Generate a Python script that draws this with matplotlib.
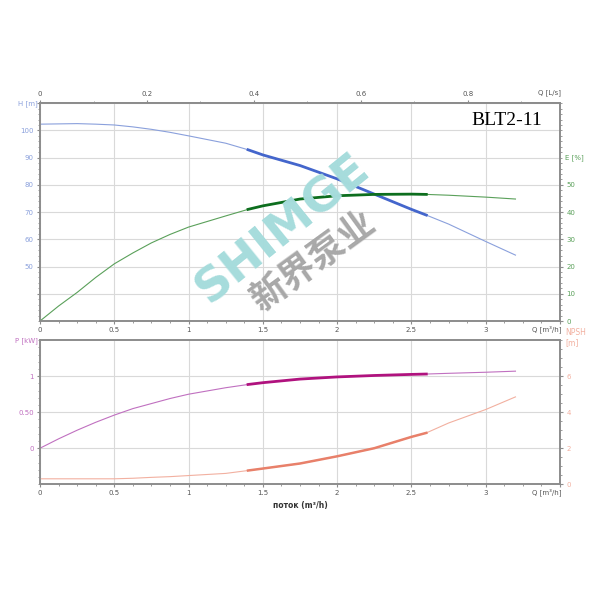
import matplotlib.pyplot as plt
from matplotlib.ticker import MultipleLocator

# pump curve data (Q in m3/h)
q = [0, 0.125, 0.25, 0.375, 0.5, 0.625, 0.75, 0.875, 1.0, 1.25, 1.4, 1.5, 1.75, 2.0, 2.25, 2.5, 2.6, 2.75, 3.0, 3.2]
head = [102.3, 102.4, 102.5, 102.3, 102.0, 101.3, 100.4, 99.3, 98.0, 95.3, 92.9, 91.0, 87.1, 82.2, 76.6, 71.0, 68.9, 65.6, 59.2, 54.2]
eff = [0, 5.5, 10.5, 16, 21, 25, 28.7, 31.8, 34.5, 38.6, 41, 42.3, 44.8, 46, 46.5, 46.6, 46.5, 46.2, 45.5, 44.8]
power = [0, 0.13, 0.25, 0.36, 0.46, 0.55, 0.62, 0.69, 0.75, 0.84, 0.885, 0.91, 0.96, 0.99, 1.01, 1.025, 1.03, 1.04, 1.055, 1.07]
npsh = [0.3, 0.3, 0.3, 0.3, 0.3, 0.33, 0.38, 0.42, 0.48, 0.6, 0.76, 0.87, 1.15, 1.55, 2.0, 2.63, 2.85, 3.4, 4.15, 4.85]
# operating range (thick part): Q 1.4 .. 2.6
i0, i1 = 10, 17

q_ticks = [0, 0.5, 1, 1.5, 2, 2.5, 3, 3.5]
q_labels = ["0", "0.5", "1", "1.5", "2", "2.5", "3", ""]
ls_ticks = [0, 0.2, 0.4, 0.6, 0.8]
ls_labels = ["0", "0.2", "0.4", "0.6", "0.8"]

model = "BLT2-11"
grid_c = "#d9d9d9"
spine_c = "#8c8c8c"
lbl_c = "#555555"

c_h, c_h2 = "#8aa0dc", "#4466cc"
c_e, c_e2 = "#5aa05a", "#0d6e1e"
c_p, c_p2 = "#c070c0", "#b0127e"
c_n, c_n2 = "#f2b0a0", "#e8806a"

fig = plt.figure(figsize=(6, 6), dpi=100)

def style_axes(ax):
    for s in ax.spines.values():
        s.set_color(spine_c)
        s.set_linewidth(1.2)
    ax.tick_params(labelsize=5, length=2.5, width=0.8, color=spine_c, pad=2)
    ax.tick_params(which="minor", length=1.5, width=0.6, color=spine_c)

# ---------- top: head + efficiency ----------
ax1 = fig.add_axes([0.0667, 0.465, 0.8667, 0.363])
ax1.set_xlim(0, 3.5)
ax1.set_ylim(30, 110)
ax1.set_xticks(q_ticks)
ax1.set_xticklabels(q_labels)
ax1.xaxis.set_minor_locator(MultipleLocator(0.125))
ax1.set_yticks([40, 50, 60, 70, 80, 90, 100, 110])
ax1.set_yticklabels(["", "50", "60", "70", "80", "90", "100", ""])
ax1.yaxis.set_minor_locator(MultipleLocator(2))
ax1.grid(True, color=grid_c, linewidth=0.8)
style_axes(ax1)
ax1.tick_params(axis="y", labelcolor=c_h)
ax1.tick_params(axis="x", labelcolor=lbl_c)

ax1.plot(q, head, color=c_h, lw=0.8)
ax1.plot(q[i0:i1], head[i0:i1], color=c_h2, lw=2)

ax1e = ax1.twinx()
ax1e.set_ylim(0, 80)
ax1e.set_yticks([0, 10, 20, 30, 40, 50])
ax1e.yaxis.set_minor_locator(MultipleLocator(2))
style_axes(ax1e)
ax1e.tick_params(axis="y", labelcolor=c_e)
ax1e.plot(q, eff, color=c_e, lw=0.8)
ax1e.plot(q[i0:i1], eff[i0:i1], color=c_e2, lw=2)

sec = ax1.secondary_xaxis("top", functions=(lambda x: x / 3.6, lambda x: x * 3.6))
sec.set_xticks(ls_ticks)
sec.set_xticklabels(ls_labels)
sec.xaxis.set_minor_locator(MultipleLocator(0.1))
sec.tick_params(labelsize=5, length=2.5, width=0.8, color=spine_c, labelcolor=lbl_c, pad=2)
sec.tick_params(which="minor", length=1.5, color=spine_c)
sec.spines["top"].set_color(spine_c)
sec.spines["top"].set_linewidth(1.2)

fig.text(0.063, 0.828, "H [m]", color=c_h, fontsize=5, ha="right", va="center")
fig.text(0.935, 0.845, "Q [L/s]", color=lbl_c, fontsize=5, ha="right", va="center")
fig.text(0.942, 0.737, "E [%]", color=c_e, fontsize=5, ha="left", va="center")
fig.text(0.935, 0.452, "Q [m³/h]", color=lbl_c, fontsize=5, ha="right", va="center")
ax1.text(0.965, 0.96, model, transform=ax1.transAxes, fontsize=14,
         family="Liberation Serif", ha="right", va="top")

# watermark
fig.text(0.472, 0.618, "SHIMGE", fontsize=34, fontweight="bold", color="#a6dcdc",
         rotation=39, ha="center", va="center")
fig.text(0.522, 0.563, "新界泵业", fontsize=26, fontweight="bold", color="#a8a8a8",
         family=["Noto Sans CJK SC", "DejaVu Sans"], rotation=36, ha="center", va="center")

# ---------- bottom: power + NPSH ----------
ax2 = fig.add_axes([0.0667, 0.193, 0.8667, 0.24])
ax2.set_xlim(0, 3.5)
ax2.set_ylim(-0.5, 1.5)
ax2.set_xticks(q_ticks)
ax2.set_xticklabels(q_labels)
ax2.xaxis.set_minor_locator(MultipleLocator(0.125))
ax2.set_yticks([0, 0.5, 1])
ax2.set_yticklabels(["0", "0.50", "1"])
ax2.yaxis.set_minor_locator(MultipleLocator(0.1))
ax2.grid(True, color=grid_c, linewidth=0.8)
style_axes(ax2)
ax2.tick_params(axis="y", labelcolor=c_p)
ax2.tick_params(axis="x", labelcolor=lbl_c)
ax2.plot(q, power, color=c_p, lw=0.8)
ax2.plot(q[i0:i1], power[i0:i1], color=c_p2, lw=2)

ax2n = ax2.twinx()
ax2n.set_ylim(0, 8)
ax2n.set_yticks([0, 2, 4, 6])
ax2n.yaxis.set_minor_locator(MultipleLocator(0.5))
style_axes(ax2n)
ax2n.tick_params(axis="y", labelcolor=c_n)
ax2n.plot(q, npsh, color=c_n, lw=0.8)
ax2n.plot(q[i0:i1], npsh[i0:i1], color=c_n2, lw=1.8)

fig.text(0.063, 0.433, "P [kW]", color=c_p, fontsize=5, ha="right", va="center")
fig.text(0.942, 0.437, "NPSH\n[m]", color=c_n, fontsize=5.5, ha="left", va="center",
         linespacing=1.1)
fig.text(0.935, 0.179, "Q [m³/h]", color=lbl_c, fontsize=5, ha="right", va="center")
fig.text(0.5, 0.158, "поток (m³/h)", color="#333333", fontsize=5.5, fontweight="bold",
         ha="center", va="center")

fig.savefig("out.png", dpi=100)
